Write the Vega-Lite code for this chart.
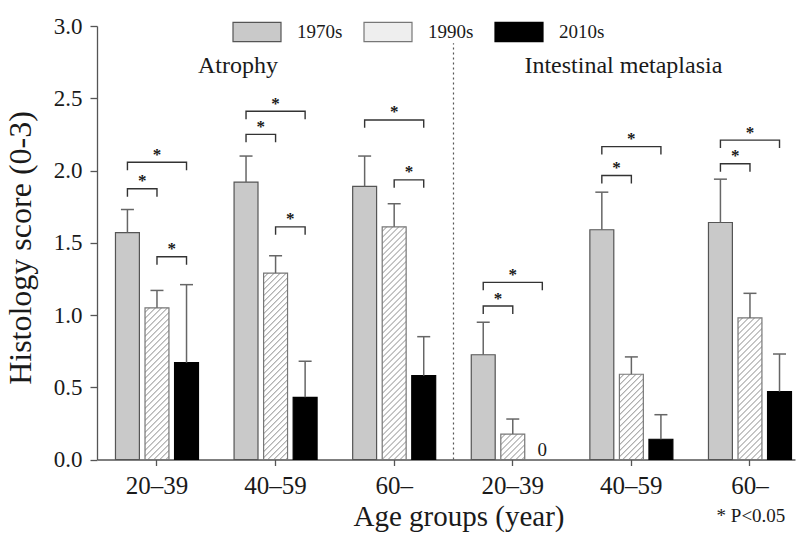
{
  "$schema": "https://vega.github.io/schema/vega-lite/v6.json",
  "width": 698,
  "height": 433.5,
  "autosize": {"type": "none"},
  "padding": {"left": 97, "top": 26, "right": 5, "bottom": 79.5},
  "background": "white",
  "config": {
    "view": {"stroke": null},
    "font": "Liberation Serif",
    "axis": {"grid": false, "domainColor": "#555555", "tickColor": "#555555", "labelColor": "#1a1a1a", "titleColor": "#1a1a1a", "titleFontWeight": "normal", "domainWidth": 1.3, "tickWidth": 1.3},
    "text": {"color": "#1a1a1a"}
  },
  "datasets": {
    "bars": [
      {"g": "A 20–39", "d": "1970s", "v": 1.57, "err": 1.73},
      {"g": "A 20–39", "d": "1990s", "v": 1.05, "err": 1.17},
      {"g": "A 20–39", "d": "2010s", "v": 0.67, "err": 1.21},
      {"g": "A 40–59", "d": "1970s", "v": 1.92, "err": 2.10},
      {"g": "A 40–59", "d": "1990s", "v": 1.29, "err": 1.41},
      {"g": "A 40–59", "d": "2010s", "v": 0.43, "err": 0.68},
      {"g": "A 60–", "d": "1970s", "v": 1.89, "err": 2.10},
      {"g": "A 60–", "d": "1990s", "v": 1.61, "err": 1.77},
      {"g": "A 60–", "d": "2010s", "v": 0.58, "err": 0.85},
      {"g": "I 20–39", "d": "1970s", "v": 0.725, "err": 0.95},
      {"g": "I 20–39", "d": "1990s", "v": 0.176, "err": 0.28},
      {"g": "I 20–39", "d": "2010s", "v": 0, "err": null},
      {"g": "I 40–59", "d": "1970s", "v": 1.59, "err": 1.85},
      {"g": "I 40–59", "d": "1990s", "v": 0.59, "err": 0.71},
      {"g": "I 40–59", "d": "2010s", "v": 0.14, "err": 0.31},
      {"g": "I 60–", "d": "1970s", "v": 1.64, "err": 1.94},
      {"g": "I 60–", "d": "1990s", "v": 0.98, "err": 1.15},
      {"g": "I 60–", "d": "2010s", "v": 0.47, "err": 0.73}
    ],
    "brk": [
      {"b": 1, "o": 1, "g": "A 20–39", "d": "1970s", "h": 1.819},
      {"b": 1, "o": 2, "g": "A 20–39", "d": "1970s", "h": 1.874},
      {"b": 1, "o": 3, "g": "A 20–39", "d": "1990s", "h": 1.874},
      {"b": 1, "o": 4, "g": "A 20–39", "d": "1990s", "h": 1.819},
      {"b": 2, "o": 1, "g": "A 20–39", "d": "1970s", "h": 2.002},
      {"b": 2, "o": 2, "g": "A 20–39", "d": "1970s", "h": 2.057},
      {"b": 2, "o": 3, "g": "A 20–39", "d": "2010s", "h": 2.057},
      {"b": 2, "o": 4, "g": "A 20–39", "d": "2010s", "h": 2.002},
      {"b": 3, "o": 1, "g": "A 20–39", "d": "1990s", "h": 1.348},
      {"b": 3, "o": 2, "g": "A 20–39", "d": "1990s", "h": 1.403},
      {"b": 3, "o": 3, "g": "A 20–39", "d": "2010s", "h": 1.403},
      {"b": 3, "o": 4, "g": "A 20–39", "d": "2010s", "h": 1.348},
      {"b": 4, "o": 1, "g": "A 40–59", "d": "1970s", "h": 2.195},
      {"b": 4, "o": 2, "g": "A 40–59", "d": "1970s", "h": 2.25},
      {"b": 4, "o": 3, "g": "A 40–59", "d": "1990s", "h": 2.25},
      {"b": 4, "o": 4, "g": "A 40–59", "d": "1990s", "h": 2.195},
      {"b": 5, "o": 1, "g": "A 40–59", "d": "1970s", "h": 2.355},
      {"b": 5, "o": 2, "g": "A 40–59", "d": "1970s", "h": 2.41},
      {"b": 5, "o": 3, "g": "A 40–59", "d": "2010s", "h": 2.41},
      {"b": 5, "o": 4, "g": "A 40–59", "d": "2010s", "h": 2.355},
      {"b": 6, "o": 1, "g": "A 40–59", "d": "1990s", "h": 1.555},
      {"b": 6, "o": 2, "g": "A 40–59", "d": "1990s", "h": 1.61},
      {"b": 6, "o": 3, "g": "A 40–59", "d": "2010s", "h": 1.61},
      {"b": 6, "o": 4, "g": "A 40–59", "d": "2010s", "h": 1.555},
      {"b": 7, "o": 1, "g": "A 60–", "d": "1970s", "h": 2.295},
      {"b": 7, "o": 2, "g": "A 60–", "d": "1970s", "h": 2.35},
      {"b": 7, "o": 3, "g": "A 60–", "d": "2010s", "h": 2.35},
      {"b": 7, "o": 4, "g": "A 60–", "d": "2010s", "h": 2.295},
      {"b": 8, "o": 1, "g": "A 60–", "d": "1990s", "h": 1.88},
      {"b": 8, "o": 2, "g": "A 60–", "d": "1990s", "h": 1.935},
      {"b": 8, "o": 3, "g": "A 60–", "d": "2010s", "h": 1.935},
      {"b": 8, "o": 4, "g": "A 60–", "d": "2010s", "h": 1.88},
      {"b": 9, "o": 1, "g": "I 20–39", "d": "1970s", "h": 1.007},
      {"b": 9, "o": 2, "g": "I 20–39", "d": "1970s", "h": 1.062},
      {"b": 9, "o": 3, "g": "I 20–39", "d": "1990s", "h": 1.062},
      {"b": 9, "o": 4, "g": "I 20–39", "d": "1990s", "h": 1.007},
      {"b": 10, "o": 1, "g": "I 20–39", "d": "1970s", "h": 1.171},
      {"b": 10, "o": 2, "g": "I 20–39", "d": "1970s", "h": 1.226},
      {"b": 10, "o": 3, "g": "I 20–39", "d": "2010s", "h": 1.226},
      {"b": 10, "o": 4, "g": "I 20–39", "d": "2010s", "h": 1.171},
      {"b": 11, "o": 1, "g": "I 40–59", "d": "1970s", "h": 1.91},
      {"b": 11, "o": 2, "g": "I 40–59", "d": "1970s", "h": 1.965},
      {"b": 11, "o": 3, "g": "I 40–59", "d": "1990s", "h": 1.965},
      {"b": 11, "o": 4, "g": "I 40–59", "d": "1990s", "h": 1.91},
      {"b": 12, "o": 1, "g": "I 40–59", "d": "1970s", "h": 2.11},
      {"b": 12, "o": 2, "g": "I 40–59", "d": "1970s", "h": 2.165},
      {"b": 12, "o": 3, "g": "I 40–59", "d": "2010s", "h": 2.165},
      {"b": 12, "o": 4, "g": "I 40–59", "d": "2010s", "h": 2.11},
      {"b": 13, "o": 1, "g": "I 60–", "d": "1970s", "h": 1.992},
      {"b": 13, "o": 2, "g": "I 60–", "d": "1970s", "h": 2.047},
      {"b": 13, "o": 3, "g": "I 60–", "d": "1990s", "h": 2.047},
      {"b": 13, "o": 4, "g": "I 60–", "d": "1990s", "h": 1.992},
      {"b": 14, "o": 1, "g": "I 60–", "d": "1970s", "h": 2.155},
      {"b": 14, "o": 2, "g": "I 60–", "d": "1970s", "h": 2.21},
      {"b": 14, "o": 3, "g": "I 60–", "d": "2010s", "h": 2.21},
      {"b": 14, "o": 4, "g": "I 60–", "d": "2010s", "h": 2.155}
    ],
    "stars": [
      {"g": "A 20–39", "p": "a", "h": 1.874},
      {"g": "A 20–39", "p": "b", "h": 2.057},
      {"g": "A 20–39", "p": "c", "h": 1.403},
      {"g": "A 40–59", "p": "a", "h": 2.25},
      {"g": "A 40–59", "p": "b", "h": 2.41},
      {"g": "A 40–59", "p": "c", "h": 1.61},
      {"g": "A 60–", "p": "b", "h": 2.35},
      {"g": "A 60–", "p": "c", "h": 1.935},
      {"g": "I 20–39", "p": "a", "h": 1.062},
      {"g": "I 20–39", "p": "b", "h": 1.226},
      {"g": "I 40–59", "p": "a", "h": 1.965},
      {"g": "I 40–59", "p": "b", "h": 2.165},
      {"g": "I 60–", "p": "a", "h": 2.047},
      {"g": "I 60–", "p": "b", "h": 2.21}
    ],
    "titles": [
      {"g": "A 40–59", "d": "1970s", "t": "Atrophy", "y": 2.678},
      {"g": "I 40–59", "d": "1990s", "t": "Intestinal metaplasia", "y": 2.678}
    ],
    "zero": [
      {"g": "I 20–39", "d": "2010s", "t": "0", "y": 0}
    ],
    "note": [
      {"g": "I 60–", "d": "1990s", "t": "* P<0.05", "y": -0.4325}
    ],
    "divider": [
      {"g": "A 60–", "y0": 0, "y1": 2.88}
    ]
  },
  "encoding": {
    "x": {
      "field": "g",
      "type": "nominal",
      "title": "Age groups (year)",
      "scale": {"domain": ["A 20–39", "A 40–59", "A 60–", "I 20–39", "I 40–59", "I 60–"], "paddingInner": 0.3, "paddingOuter": 0.0927, "align": 0.84},
      "axis": {"labelExpr": "split(datum.label, ' ')[1]", "labelAngle": 0, "labelFontSize": 25, "tickSize": 6, "labelPadding": 7.5, "titleFontSize": 29, "titleBaseline": "alphabetic", "titleX": 361.5, "titleY": 65.5, "titleAlign": "center"}
    }
  },
  "layer": [
    {
      "data": {"name": "bars"},
      "transform": [{"filter": "datum.v > 0"}],
      "mark": {"type": "bar", "strokeWidth": 1.2},
      "encoding": {
        "xOffset": {"field": "d", "type": "nominal", "scale": {"domain": ["1970s", "1990s", "2010s"], "paddingInner": 0.19, "paddingOuter": 0}},
        "y": {
          "field": "v",
          "type": "quantitative",
          "title": "Histology score (0-3)",
          "scale": {"domain": [0, 3], "nice": false},
          "axis": {"values": [0, 0.5, 1, 1.5, 2, 2.5, 3], "format": ".1f", "labelFontSize": 23, "tickSize": 7, "labelPadding": 8, "titleFontSize": 32, "titleAngle": 270, "titleBaseline": "alphabetic", "titleX": -67, "titleY": 221.5, "titleAlign": "center"}
        },
        "fill": {
          "field": "d",
          "type": "nominal",
          "scale": {"domain": ["1970s", "1990s", "2010s"], "range": ["#c9c9c9", "#eeeeee", "#000000"]},
          "condition": [
            {"test": "datum.g === 'A 20–39' && datum.d === '1990s'", "value": {"gradient": "linear", "x1": 0, "y1": 0, "x2": 0.30428, "y2": 1.92927, "stops": [
{"offset":0,"color":"#fff"},{"offset":0.011,"color":"#fff"},{"offset":0.015,"color":"#a3a3a3"},
{"offset":0.02,"color":"#fff"},{"offset":0.031,"color":"#fff"},{"offset":0.035,"color":"#a3a3a3"},
{"offset":0.04,"color":"#fff"},{"offset":0.051,"color":"#fff"},{"offset":0.055,"color":"#a3a3a3"},
{"offset":0.06,"color":"#fff"},{"offset":0.071,"color":"#fff"},{"offset":0.075,"color":"#a3a3a3"},
{"offset":0.08,"color":"#fff"},{"offset":0.091,"color":"#fff"},{"offset":0.095,"color":"#a3a3a3"},
{"offset":0.1,"color":"#fff"},{"offset":0.111,"color":"#fff"},{"offset":0.115,"color":"#a3a3a3"},
{"offset":0.12,"color":"#fff"},{"offset":0.131,"color":"#fff"},{"offset":0.135,"color":"#a3a3a3"},
{"offset":0.14,"color":"#fff"},{"offset":0.151,"color":"#fff"},{"offset":0.155,"color":"#a3a3a3"},
{"offset":0.16,"color":"#fff"},{"offset":0.171,"color":"#fff"},{"offset":0.175,"color":"#a3a3a3"},
{"offset":0.18,"color":"#fff"},{"offset":0.191,"color":"#fff"},{"offset":0.195,"color":"#a3a3a3"},
{"offset":0.2,"color":"#fff"},{"offset":0.211,"color":"#fff"},{"offset":0.215,"color":"#a3a3a3"},
{"offset":0.22,"color":"#fff"},{"offset":0.231,"color":"#fff"},{"offset":0.235,"color":"#a3a3a3"},
{"offset":0.24,"color":"#fff"},{"offset":0.251,"color":"#fff"},{"offset":0.255,"color":"#a3a3a3"},
{"offset":0.26,"color":"#fff"},{"offset":0.271,"color":"#fff"},{"offset":0.275,"color":"#a3a3a3"},
{"offset":0.28,"color":"#fff"},{"offset":0.291,"color":"#fff"},{"offset":0.295,"color":"#a3a3a3"},
{"offset":0.3,"color":"#fff"},{"offset":0.311,"color":"#fff"},{"offset":0.315,"color":"#a3a3a3"},
{"offset":0.32,"color":"#fff"},{"offset":0.331,"color":"#fff"},{"offset":0.335,"color":"#a3a3a3"},
{"offset":0.34,"color":"#fff"},{"offset":0.351,"color":"#fff"},{"offset":0.355,"color":"#a3a3a3"},
{"offset":0.36,"color":"#fff"},{"offset":0.371,"color":"#fff"},{"offset":0.375,"color":"#a3a3a3"},
{"offset":0.38,"color":"#fff"},{"offset":0.391,"color":"#fff"},{"offset":0.395,"color":"#a3a3a3"},
{"offset":0.4,"color":"#fff"},{"offset":0.411,"color":"#fff"},{"offset":0.415,"color":"#a3a3a3"},
{"offset":0.42,"color":"#fff"},{"offset":0.431,"color":"#fff"},{"offset":0.435,"color":"#a3a3a3"},
{"offset":0.44,"color":"#fff"},{"offset":0.451,"color":"#fff"},{"offset":0.455,"color":"#a3a3a3"},
{"offset":0.46,"color":"#fff"},{"offset":0.471,"color":"#fff"},{"offset":0.475,"color":"#a3a3a3"},
{"offset":0.48,"color":"#fff"},{"offset":0.491,"color":"#fff"},{"offset":0.495,"color":"#a3a3a3"},
{"offset":0.5,"color":"#fff"},{"offset":0.511,"color":"#fff"},{"offset":0.515,"color":"#a3a3a3"},
{"offset":0.52,"color":"#fff"},{"offset":0.531,"color":"#fff"},{"offset":0.535,"color":"#a3a3a3"},
{"offset":0.54,"color":"#fff"},{"offset":0.551,"color":"#fff"},{"offset":0.555,"color":"#a3a3a3"},
{"offset":0.56,"color":"#fff"},{"offset":0.571,"color":"#fff"},{"offset":0.575,"color":"#a3a3a3"},
{"offset":0.58,"color":"#fff"},{"offset":0.591,"color":"#fff"},{"offset":0.595,"color":"#a3a3a3"},
{"offset":0.6,"color":"#fff"}]}},
            {"test": "datum.g === 'A 40–59' && datum.d === '1990s'", "value": {"gradient": "linear", "x1": 0, "y1": 0, "x2": 0.20326, "y2": 1.58331, "stops": [
{"offset":0,"color":"#fff"},{"offset":0.011,"color":"#fff"},{"offset":0.015,"color":"#a3a3a3"},
{"offset":0.02,"color":"#fff"},{"offset":0.031,"color":"#fff"},{"offset":0.035,"color":"#a3a3a3"},
{"offset":0.04,"color":"#fff"},{"offset":0.051,"color":"#fff"},{"offset":0.055,"color":"#a3a3a3"},
{"offset":0.06,"color":"#fff"},{"offset":0.071,"color":"#fff"},{"offset":0.075,"color":"#a3a3a3"},
{"offset":0.08,"color":"#fff"},{"offset":0.091,"color":"#fff"},{"offset":0.095,"color":"#a3a3a3"},
{"offset":0.1,"color":"#fff"},{"offset":0.111,"color":"#fff"},{"offset":0.115,"color":"#a3a3a3"},
{"offset":0.12,"color":"#fff"},{"offset":0.131,"color":"#fff"},{"offset":0.135,"color":"#a3a3a3"},
{"offset":0.14,"color":"#fff"},{"offset":0.151,"color":"#fff"},{"offset":0.155,"color":"#a3a3a3"},
{"offset":0.16,"color":"#fff"},{"offset":0.171,"color":"#fff"},{"offset":0.175,"color":"#a3a3a3"},
{"offset":0.18,"color":"#fff"},{"offset":0.191,"color":"#fff"},{"offset":0.195,"color":"#a3a3a3"},
{"offset":0.2,"color":"#fff"},{"offset":0.211,"color":"#fff"},{"offset":0.215,"color":"#a3a3a3"},
{"offset":0.22,"color":"#fff"},{"offset":0.231,"color":"#fff"},{"offset":0.235,"color":"#a3a3a3"},
{"offset":0.24,"color":"#fff"},{"offset":0.251,"color":"#fff"},{"offset":0.255,"color":"#a3a3a3"},
{"offset":0.26,"color":"#fff"},{"offset":0.271,"color":"#fff"},{"offset":0.275,"color":"#a3a3a3"},
{"offset":0.28,"color":"#fff"},{"offset":0.291,"color":"#fff"},{"offset":0.295,"color":"#a3a3a3"},
{"offset":0.3,"color":"#fff"},{"offset":0.311,"color":"#fff"},{"offset":0.315,"color":"#a3a3a3"},
{"offset":0.32,"color":"#fff"},{"offset":0.331,"color":"#fff"},{"offset":0.335,"color":"#a3a3a3"},
{"offset":0.34,"color":"#fff"},{"offset":0.351,"color":"#fff"},{"offset":0.355,"color":"#a3a3a3"},
{"offset":0.36,"color":"#fff"},{"offset":0.371,"color":"#fff"},{"offset":0.375,"color":"#a3a3a3"},
{"offset":0.38,"color":"#fff"},{"offset":0.391,"color":"#fff"},{"offset":0.395,"color":"#a3a3a3"},
{"offset":0.4,"color":"#fff"},{"offset":0.411,"color":"#fff"},{"offset":0.415,"color":"#a3a3a3"},
{"offset":0.42,"color":"#fff"},{"offset":0.431,"color":"#fff"},{"offset":0.435,"color":"#a3a3a3"},
{"offset":0.44,"color":"#fff"},{"offset":0.451,"color":"#fff"},{"offset":0.455,"color":"#a3a3a3"},
{"offset":0.46,"color":"#fff"},{"offset":0.471,"color":"#fff"},{"offset":0.475,"color":"#a3a3a3"},
{"offset":0.48,"color":"#fff"},{"offset":0.491,"color":"#fff"},{"offset":0.495,"color":"#a3a3a3"},
{"offset":0.5,"color":"#fff"},{"offset":0.511,"color":"#fff"},{"offset":0.515,"color":"#a3a3a3"},
{"offset":0.52,"color":"#fff"},{"offset":0.531,"color":"#fff"},{"offset":0.535,"color":"#a3a3a3"},
{"offset":0.54,"color":"#fff"},{"offset":0.551,"color":"#fff"},{"offset":0.555,"color":"#a3a3a3"},
{"offset":0.56,"color":"#fff"},{"offset":0.571,"color":"#fff"},{"offset":0.575,"color":"#a3a3a3"},
{"offset":0.58,"color":"#fff"},{"offset":0.591,"color":"#fff"},{"offset":0.595,"color":"#a3a3a3"},
{"offset":0.6,"color":"#fff"},{"offset":0.611,"color":"#fff"},{"offset":0.615,"color":"#a3a3a3"},
{"offset":0.62,"color":"#fff"},{"offset":0.631,"color":"#fff"},{"offset":0.635,"color":"#a3a3a3"},
{"offset":0.64,"color":"#fff"},{"offset":0.651,"color":"#fff"},{"offset":0.655,"color":"#a3a3a3"},
{"offset":0.66,"color":"#fff"},{"offset":0.671,"color":"#fff"},{"offset":0.675,"color":"#a3a3a3"},
{"offset":0.68,"color":"#fff"},{"offset":0.691,"color":"#fff"},{"offset":0.695,"color":"#a3a3a3"},
{"offset":0.7,"color":"#fff"},{"offset":0.711,"color":"#fff"},{"offset":0.715,"color":"#a3a3a3"},
{"offset":0.72,"color":"#fff"}]}},
            {"test": "datum.g === 'A 60–' && datum.d === '1990s'", "value": {"gradient": "linear", "x1": 0, "y1": 0, "x2": 0.13125, "y2": 1.27602, "stops": [
{"offset":0,"color":"#fff"},{"offset":0.011,"color":"#fff"},{"offset":0.015,"color":"#a3a3a3"},
{"offset":0.02,"color":"#fff"},{"offset":0.031,"color":"#fff"},{"offset":0.035,"color":"#a3a3a3"},
{"offset":0.04,"color":"#fff"},{"offset":0.051,"color":"#fff"},{"offset":0.055,"color":"#a3a3a3"},
{"offset":0.06,"color":"#fff"},{"offset":0.071,"color":"#fff"},{"offset":0.075,"color":"#a3a3a3"},
{"offset":0.08,"color":"#fff"},{"offset":0.091,"color":"#fff"},{"offset":0.095,"color":"#a3a3a3"},
{"offset":0.1,"color":"#fff"},{"offset":0.111,"color":"#fff"},{"offset":0.115,"color":"#a3a3a3"},
{"offset":0.12,"color":"#fff"},{"offset":0.131,"color":"#fff"},{"offset":0.135,"color":"#a3a3a3"},
{"offset":0.14,"color":"#fff"},{"offset":0.151,"color":"#fff"},{"offset":0.155,"color":"#a3a3a3"},
{"offset":0.16,"color":"#fff"},{"offset":0.171,"color":"#fff"},{"offset":0.175,"color":"#a3a3a3"},
{"offset":0.18,"color":"#fff"},{"offset":0.191,"color":"#fff"},{"offset":0.195,"color":"#a3a3a3"},
{"offset":0.2,"color":"#fff"},{"offset":0.211,"color":"#fff"},{"offset":0.215,"color":"#a3a3a3"},
{"offset":0.22,"color":"#fff"},{"offset":0.231,"color":"#fff"},{"offset":0.235,"color":"#a3a3a3"},
{"offset":0.24,"color":"#fff"},{"offset":0.251,"color":"#fff"},{"offset":0.255,"color":"#a3a3a3"},
{"offset":0.26,"color":"#fff"},{"offset":0.271,"color":"#fff"},{"offset":0.275,"color":"#a3a3a3"},
{"offset":0.28,"color":"#fff"},{"offset":0.291,"color":"#fff"},{"offset":0.295,"color":"#a3a3a3"},
{"offset":0.3,"color":"#fff"},{"offset":0.311,"color":"#fff"},{"offset":0.315,"color":"#a3a3a3"},
{"offset":0.32,"color":"#fff"},{"offset":0.331,"color":"#fff"},{"offset":0.335,"color":"#a3a3a3"},
{"offset":0.34,"color":"#fff"},{"offset":0.351,"color":"#fff"},{"offset":0.355,"color":"#a3a3a3"},
{"offset":0.36,"color":"#fff"},{"offset":0.371,"color":"#fff"},{"offset":0.375,"color":"#a3a3a3"},
{"offset":0.38,"color":"#fff"},{"offset":0.391,"color":"#fff"},{"offset":0.395,"color":"#a3a3a3"},
{"offset":0.4,"color":"#fff"},{"offset":0.411,"color":"#fff"},{"offset":0.415,"color":"#a3a3a3"},
{"offset":0.42,"color":"#fff"},{"offset":0.431,"color":"#fff"},{"offset":0.435,"color":"#a3a3a3"},
{"offset":0.44,"color":"#fff"},{"offset":0.451,"color":"#fff"},{"offset":0.455,"color":"#a3a3a3"},
{"offset":0.46,"color":"#fff"},{"offset":0.471,"color":"#fff"},{"offset":0.475,"color":"#a3a3a3"},
{"offset":0.48,"color":"#fff"},{"offset":0.491,"color":"#fff"},{"offset":0.495,"color":"#a3a3a3"},
{"offset":0.5,"color":"#fff"},{"offset":0.511,"color":"#fff"},{"offset":0.515,"color":"#a3a3a3"},
{"offset":0.52,"color":"#fff"},{"offset":0.531,"color":"#fff"},{"offset":0.535,"color":"#a3a3a3"},
{"offset":0.54,"color":"#fff"},{"offset":0.551,"color":"#fff"},{"offset":0.555,"color":"#a3a3a3"},
{"offset":0.56,"color":"#fff"},{"offset":0.571,"color":"#fff"},{"offset":0.575,"color":"#a3a3a3"},
{"offset":0.58,"color":"#fff"},{"offset":0.591,"color":"#fff"},{"offset":0.595,"color":"#a3a3a3"},
{"offset":0.6,"color":"#fff"},{"offset":0.611,"color":"#fff"},{"offset":0.615,"color":"#a3a3a3"},
{"offset":0.62,"color":"#fff"},{"offset":0.631,"color":"#fff"},{"offset":0.635,"color":"#a3a3a3"},
{"offset":0.64,"color":"#fff"},{"offset":0.651,"color":"#fff"},{"offset":0.655,"color":"#a3a3a3"},
{"offset":0.66,"color":"#fff"},{"offset":0.671,"color":"#fff"},{"offset":0.675,"color":"#a3a3a3"},
{"offset":0.68,"color":"#fff"},{"offset":0.691,"color":"#fff"},{"offset":0.695,"color":"#a3a3a3"},
{"offset":0.7,"color":"#fff"},{"offset":0.711,"color":"#fff"},{"offset":0.715,"color":"#a3a3a3"},
{"offset":0.72,"color":"#fff"},{"offset":0.731,"color":"#fff"},{"offset":0.735,"color":"#a3a3a3"},
{"offset":0.74,"color":"#fff"},{"offset":0.751,"color":"#fff"},{"offset":0.755,"color":"#a3a3a3"},
{"offset":0.76,"color":"#fff"},{"offset":0.771,"color":"#fff"},{"offset":0.775,"color":"#a3a3a3"},
{"offset":0.78,"color":"#fff"},{"offset":0.791,"color":"#fff"},{"offset":0.795,"color":"#a3a3a3"},
{"offset":0.8,"color":"#fff"},{"offset":0.811,"color":"#fff"},{"offset":0.815,"color":"#a3a3a3"},
{"offset":0.82,"color":"#fff"},{"offset":0.831,"color":"#fff"},{"offset":0.835,"color":"#a3a3a3"},
{"offset":0.84,"color":"#fff"},{"offset":0.851,"color":"#fff"},{"offset":0.855,"color":"#a3a3a3"},
{"offset":0.86,"color":"#fff"}]}},
            {"test": "datum.g === 'I 20–39' && datum.d === '1990s'", "value": {"gradient": "linear", "x1": 0, "y1": 0, "x2": 5.88737, "y2": 6.2569, "stops": [
{"offset":0,"color":"#fff"},{"offset":0.011,"color":"#fff"},{"offset":0.015,"color":"#a3a3a3"},
{"offset":0.02,"color":"#fff"},{"offset":0.031,"color":"#fff"},{"offset":0.035,"color":"#a3a3a3"},
{"offset":0.04,"color":"#fff"},{"offset":0.051,"color":"#fff"},{"offset":0.055,"color":"#a3a3a3"},
{"offset":0.06,"color":"#fff"},{"offset":0.071,"color":"#fff"},{"offset":0.075,"color":"#a3a3a3"},
{"offset":0.08,"color":"#fff"},{"offset":0.091,"color":"#fff"},{"offset":0.095,"color":"#a3a3a3"},
{"offset":0.1,"color":"#fff"},{"offset":0.111,"color":"#fff"},{"offset":0.115,"color":"#a3a3a3"},
{"offset":0.12,"color":"#fff"},{"offset":0.131,"color":"#fff"},{"offset":0.135,"color":"#a3a3a3"},
{"offset":0.14,"color":"#fff"},{"offset":0.151,"color":"#fff"},{"offset":0.155,"color":"#a3a3a3"},
{"offset":0.16,"color":"#fff"},{"offset":0.171,"color":"#fff"},{"offset":0.175,"color":"#a3a3a3"},
{"offset":0.18,"color":"#fff"}]}},
            {"test": "datum.g === 'I 40–59' && datum.d === '1990s'", "value": {"gradient": "linear", "x1": 0, "y1": 0, "x2": 0.91557, "y2": 3.26189, "stops": [
{"offset":0,"color":"#fff"},{"offset":0.011,"color":"#fff"},{"offset":0.015,"color":"#a3a3a3"},
{"offset":0.02,"color":"#fff"},{"offset":0.031,"color":"#fff"},{"offset":0.035,"color":"#a3a3a3"},
{"offset":0.04,"color":"#fff"},{"offset":0.051,"color":"#fff"},{"offset":0.055,"color":"#a3a3a3"},
{"offset":0.06,"color":"#fff"},{"offset":0.071,"color":"#fff"},{"offset":0.075,"color":"#a3a3a3"},
{"offset":0.08,"color":"#fff"},{"offset":0.091,"color":"#fff"},{"offset":0.095,"color":"#a3a3a3"},
{"offset":0.1,"color":"#fff"},{"offset":0.111,"color":"#fff"},{"offset":0.115,"color":"#a3a3a3"},
{"offset":0.12,"color":"#fff"},{"offset":0.131,"color":"#fff"},{"offset":0.135,"color":"#a3a3a3"},
{"offset":0.14,"color":"#fff"},{"offset":0.151,"color":"#fff"},{"offset":0.155,"color":"#a3a3a3"},
{"offset":0.16,"color":"#fff"},{"offset":0.171,"color":"#fff"},{"offset":0.175,"color":"#a3a3a3"},
{"offset":0.18,"color":"#fff"},{"offset":0.191,"color":"#fff"},{"offset":0.195,"color":"#a3a3a3"},
{"offset":0.2,"color":"#fff"},{"offset":0.211,"color":"#fff"},{"offset":0.215,"color":"#a3a3a3"},
{"offset":0.22,"color":"#fff"},{"offset":0.231,"color":"#fff"},{"offset":0.235,"color":"#a3a3a3"},
{"offset":0.24,"color":"#fff"},{"offset":0.251,"color":"#fff"},{"offset":0.255,"color":"#a3a3a3"},
{"offset":0.26,"color":"#fff"},{"offset":0.271,"color":"#fff"},{"offset":0.275,"color":"#a3a3a3"},
{"offset":0.28,"color":"#fff"},{"offset":0.291,"color":"#fff"},{"offset":0.295,"color":"#a3a3a3"},
{"offset":0.3,"color":"#fff"},{"offset":0.311,"color":"#fff"},{"offset":0.315,"color":"#a3a3a3"},
{"offset":0.32,"color":"#fff"},{"offset":0.331,"color":"#fff"},{"offset":0.335,"color":"#a3a3a3"},
{"offset":0.34,"color":"#fff"},{"offset":0.351,"color":"#fff"},{"offset":0.355,"color":"#a3a3a3"},
{"offset":0.36,"color":"#fff"},{"offset":0.371,"color":"#fff"},{"offset":0.375,"color":"#a3a3a3"},
{"offset":0.38,"color":"#fff"}]}},
            {"test": "datum.g === 'I 60–' && datum.d === '1990s'", "value": {"gradient": "linear", "x1": 0, "y1": 0, "x2": 0.34806, "y2": 2.05968, "stops": [
{"offset":0,"color":"#fff"},{"offset":0.011,"color":"#fff"},{"offset":0.015,"color":"#a3a3a3"},
{"offset":0.02,"color":"#fff"},{"offset":0.031,"color":"#fff"},{"offset":0.035,"color":"#a3a3a3"},
{"offset":0.04,"color":"#fff"},{"offset":0.051,"color":"#fff"},{"offset":0.055,"color":"#a3a3a3"},
{"offset":0.06,"color":"#fff"},{"offset":0.071,"color":"#fff"},{"offset":0.075,"color":"#a3a3a3"},
{"offset":0.08,"color":"#fff"},{"offset":0.091,"color":"#fff"},{"offset":0.095,"color":"#a3a3a3"},
{"offset":0.1,"color":"#fff"},{"offset":0.111,"color":"#fff"},{"offset":0.115,"color":"#a3a3a3"},
{"offset":0.12,"color":"#fff"},{"offset":0.131,"color":"#fff"},{"offset":0.135,"color":"#a3a3a3"},
{"offset":0.14,"color":"#fff"},{"offset":0.151,"color":"#fff"},{"offset":0.155,"color":"#a3a3a3"},
{"offset":0.16,"color":"#fff"},{"offset":0.171,"color":"#fff"},{"offset":0.175,"color":"#a3a3a3"},
{"offset":0.18,"color":"#fff"},{"offset":0.191,"color":"#fff"},{"offset":0.195,"color":"#a3a3a3"},
{"offset":0.2,"color":"#fff"},{"offset":0.211,"color":"#fff"},{"offset":0.215,"color":"#a3a3a3"},
{"offset":0.22,"color":"#fff"},{"offset":0.231,"color":"#fff"},{"offset":0.235,"color":"#a3a3a3"},
{"offset":0.24,"color":"#fff"},{"offset":0.251,"color":"#fff"},{"offset":0.255,"color":"#a3a3a3"},
{"offset":0.26,"color":"#fff"},{"offset":0.271,"color":"#fff"},{"offset":0.275,"color":"#a3a3a3"},
{"offset":0.28,"color":"#fff"},{"offset":0.291,"color":"#fff"},{"offset":0.295,"color":"#a3a3a3"},
{"offset":0.3,"color":"#fff"},{"offset":0.311,"color":"#fff"},{"offset":0.315,"color":"#a3a3a3"},
{"offset":0.32,"color":"#fff"},{"offset":0.331,"color":"#fff"},{"offset":0.335,"color":"#a3a3a3"},
{"offset":0.34,"color":"#fff"},{"offset":0.351,"color":"#fff"},{"offset":0.355,"color":"#a3a3a3"},
{"offset":0.36,"color":"#fff"},{"offset":0.371,"color":"#fff"},{"offset":0.375,"color":"#a3a3a3"},
{"offset":0.38,"color":"#fff"},{"offset":0.391,"color":"#fff"},{"offset":0.395,"color":"#a3a3a3"},
{"offset":0.4,"color":"#fff"},{"offset":0.411,"color":"#fff"},{"offset":0.415,"color":"#a3a3a3"},
{"offset":0.42,"color":"#fff"},{"offset":0.431,"color":"#fff"},{"offset":0.435,"color":"#a3a3a3"},
{"offset":0.44,"color":"#fff"},{"offset":0.451,"color":"#fff"},{"offset":0.455,"color":"#a3a3a3"},
{"offset":0.46,"color":"#fff"},{"offset":0.471,"color":"#fff"},{"offset":0.475,"color":"#a3a3a3"},
{"offset":0.48,"color":"#fff"},{"offset":0.491,"color":"#fff"},{"offset":0.495,"color":"#a3a3a3"},
{"offset":0.5,"color":"#fff"},{"offset":0.511,"color":"#fff"},{"offset":0.515,"color":"#a3a3a3"},
{"offset":0.52,"color":"#fff"},{"offset":0.531,"color":"#fff"},{"offset":0.535,"color":"#a3a3a3"},
{"offset":0.54,"color":"#fff"},{"offset":0.551,"color":"#fff"},{"offset":0.555,"color":"#a3a3a3"},
{"offset":0.56,"color":"#fff"}]}}
          ],
          "legend": {
            "orient": "none", "legendX": 135, "legendY": -19, "direction": "horizontal", "title": null,
            "symbolType": "M-1,-0.4H1V0.4H-1Z", "symbolSize": 2304, "labelFontSize": 19, "labelOffset": 15,
            "columnPadding": 18, "padding": 0, "labelColor": "#1a1a1a", "symbolStrokeColor": "#555555", "symbolStrokeWidth": 1.2,
            "encode": {"symbols": {"update": {
              "stroke": [{"test": "datum.value === '2010s'", "value": "#000000"}, {"value": "#555555"}],
              "strokeWidth": {"value": 1.2},
              "opacity": {"value": 1},
              "fill": [
                {"test": "datum.value === '1990s'", "value": {"gradient": "linear", "x1": 0, "y1": 0, "x2": 5.38793, "y2": 2.15517, "stops": [
{"offset":0,"color":"#fff"},{"offset":0.011,"color":"#fff"},{"offset":0.015,"color":"#a3a3a3"},
{"offset":0.02,"color":"#fff"},{"offset":0.031,"color":"#fff"},{"offset":0.035,"color":"#a3a3a3"},
{"offset":0.04,"color":"#fff"},{"offset":0.051,"color":"#fff"},{"offset":0.055,"color":"#a3a3a3"},
{"offset":0.06,"color":"#fff"},{"offset":0.071,"color":"#fff"},{"offset":0.075,"color":"#a3a3a3"},
{"offset":0.08,"color":"#fff"},{"offset":0.091,"color":"#fff"},{"offset":0.095,"color":"#a3a3a3"},
{"offset":0.1,"color":"#fff"},{"offset":0.111,"color":"#fff"},{"offset":0.115,"color":"#a3a3a3"},
{"offset":0.12,"color":"#fff"},{"offset":0.131,"color":"#fff"},{"offset":0.135,"color":"#a3a3a3"},
{"offset":0.14,"color":"#fff"},{"offset":0.151,"color":"#fff"},{"offset":0.155,"color":"#a3a3a3"},
{"offset":0.16,"color":"#fff"},{"offset":0.171,"color":"#fff"},{"offset":0.175,"color":"#a3a3a3"},
{"offset":0.18,"color":"#fff"},{"offset":0.191,"color":"#fff"},{"offset":0.195,"color":"#a3a3a3"},
{"offset":0.2,"color":"#fff"},{"offset":0.211,"color":"#fff"},{"offset":0.215,"color":"#a3a3a3"},
{"offset":0.22,"color":"#fff"},{"offset":0.231,"color":"#fff"},{"offset":0.235,"color":"#a3a3a3"},
{"offset":0.24,"color":"#fff"}]}},
                {"scale": "fill", "field": "value"}
              ]
            }}}
          }
        },
        "stroke": {
          "field": "d",
          "type": "nominal",
          "scale": {"domain": ["1970s", "1990s", "2010s"], "range": ["#555555", "#777777", "#000000"]},
          "legend": null
        }
      }
    },
    {
      "data": {"name": "bars"},
      "transform": [{"filter": "datum.err != null"}],
      "mark": {"type": "rule", "color": "#666666", "strokeWidth": 1.5},
      "encoding": {
        "xOffset": {"field": "d", "type": "nominal"},
        "y": {"field": "v", "type": "quantitative"},
        "y2": {"field": "err"}
      }
    },
    {
      "data": {"name": "bars"},
      "transform": [{"filter": "datum.err != null"}],
      "mark": {"type": "tick", "color": "#666666", "thickness": 1.5, "size": 13, "opacity": 1},
      "encoding": {
        "xOffset": {"field": "d", "type": "nominal"},
        "y": {"field": "err", "type": "quantitative"}
      }
    },
    {
      "data": {"name": "brk"},
      "mark": {"type": "line", "color": "#333333", "strokeWidth": 1.4},
      "encoding": {
        "xOffset": {"field": "d", "type": "nominal"},
        "y": {"field": "h", "type": "quantitative"},
        "detail": {"field": "b", "type": "nominal"},
        "order": {"field": "o", "type": "quantitative"}
      }
    },
    {
      "data": {"name": "stars"},
      "transform": [{"filter": "datum.p === 'a'"}],
      "mark": {"type": "text", "text": "*", "fontSize": 17, "fontWeight": "bold", "baseline": "alphabetic", "dy": -2.5, "dx": -14.77},
      "encoding": {
        "xOffset": {"datum": "1990s", "type": "nominal"},
        "y": {"field": "h", "type": "quantitative"}
      }
    },
    {
      "data": {"name": "stars"},
      "transform": [{"filter": "datum.p === 'b'"}],
      "mark": {"type": "text", "text": "*", "fontSize": 17, "fontWeight": "bold", "baseline": "alphabetic", "dy": -2.5},
      "encoding": {
        "xOffset": {"datum": "1990s", "type": "nominal"},
        "y": {"field": "h", "type": "quantitative"}
      }
    },
    {
      "data": {"name": "stars"},
      "transform": [{"filter": "datum.p === 'c'"}],
      "mark": {"type": "text", "text": "*", "fontSize": 17, "fontWeight": "bold", "baseline": "alphabetic", "dy": -2.5, "dx": 14.77},
      "encoding": {
        "xOffset": {"datum": "1990s", "type": "nominal"},
        "y": {"field": "h", "type": "quantitative"}
      }
    },
    {
      "data": {"name": "titles"},
      "mark": {"type": "text", "fontSize": 24, "baseline": "alphabetic", "dx": -8},
      "encoding": {
        "xOffset": {"field": "d", "type": "nominal"},
        "y": {"field": "y", "type": "quantitative"},
        "text": {"field": "t"}
      }
    },
    {
      "data": {"name": "zero"},
      "mark": {"type": "text", "fontSize": 19, "baseline": "alphabetic", "dy": -3.5},
      "encoding": {
        "xOffset": {"field": "d", "type": "nominal"},
        "y": {"field": "y", "type": "quantitative"},
        "text": {"field": "t"}
      }
    },
    {
      "data": {"name": "note"},
      "mark": {"type": "text", "fontSize": 19, "baseline": "alphabetic", "dx": 1},
      "encoding": {
        "xOffset": {"field": "d", "type": "nominal"},
        "y": {"field": "y", "type": "quantitative"},
        "text": {"field": "t"}
      }
    },
    {
      "data": {"name": "divider"},
      "mark": {"type": "rule", "color": "#555555", "strokeWidth": 1.2, "strokeDash": [2, 3]},
      "encoding": {
        "x": {
          "field": "g",
          "type": "nominal",
          "bandPosition": 1.2145,
          "title": "Age groups (year)",
          "scale": {"domain": ["A 20–39", "A 40–59", "A 60–", "I 20–39", "I 40–59", "I 60–"], "paddingInner": 0.3, "paddingOuter": 0.0927, "align": 0.84},
          "axis": {"labelExpr": "split(datum.label, ' ')[1]", "labelAngle": 0, "labelFontSize": 25, "tickSize": 6, "labelPadding": 7.5, "titleFontSize": 29, "titleBaseline": "alphabetic", "titleX": 361.5, "titleY": 65.5, "titleAlign": "center"}
        },
        "y": {"field": "y0", "type": "quantitative"},
        "y2": {"field": "y1"}
      }
    }
  ]
}
